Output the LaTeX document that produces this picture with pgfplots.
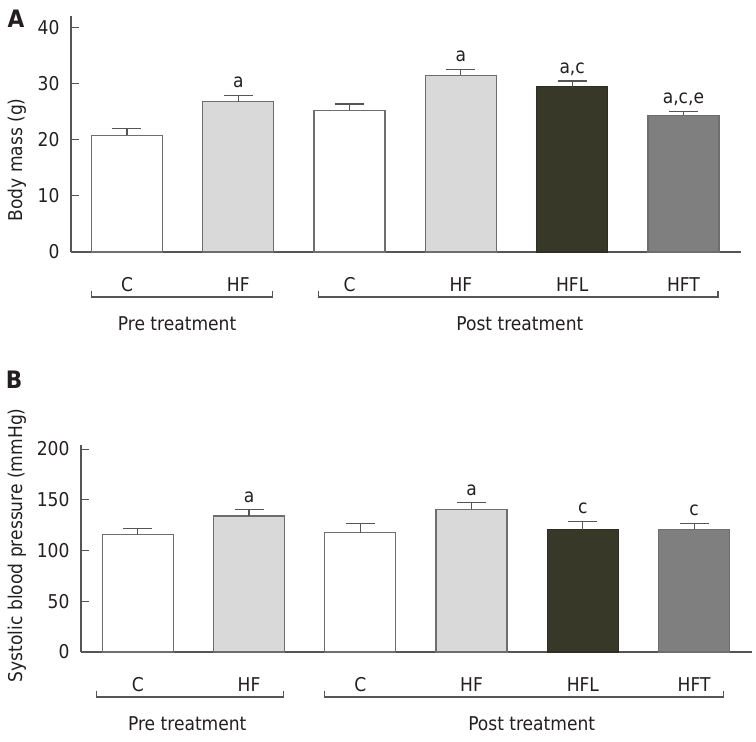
\documentclass[border=0pt]{standalone}
\usepackage{fontspec}
\setmainfont{DejaVu Sans Condensed}
\usepackage{pgfplots}
\pgfplotsset{compat=1.18}
\definecolor{axgray}{HTML}{555555}
\definecolor{barline}{HTML}{6E6E6E}
\definecolor{lgray}{HTML}{D9D9D9}
\definecolor{dolive}{HTML}{383829}
\definecolor{mgray}{HTML}{7F7F7F}
\definecolor{txt}{HTML}{231F20}
\newcommand{\fs}{\fontsize{19}{22}\selectfont}
\pgfplotsset{
  mybar/.style={
    scale only axis, axis lines=left,
    axis line style={-, color=axgray, line width=1.1pt},
    xtick={0,1,2,3,4,5}, xticklabels={C,HF,C,HF,HFL,HFT}, xtick style={draw=none},
    xticklabel style={anchor=base, yshift=-31pt, font=\fs, text=txt},
    yticklabel style={font=\fs, text=txt, xshift=-8pt},
    ytick align=inside, ytick style={color=axgray, line width=1.1pt},
    major tick length=8pt,
    /pgf/number format/assume math mode=true,
    ylabel style={font=\fs, text=txt, anchor=center},
    clip=false, ybar, bar width=71pt,
  },
  eb/.style={bar shift=0pt, line width=1.3pt,
    error bars/.cd, y dir=plus, y explicit,
    error bar style={color=axgray, line width=1.1pt},
    error mark=-, error mark options={rotate=90, color=axgray, line width=1.1pt, mark size=14.5pt}},
}
\begin{document}
\begin{tikzpicture}
\path[use as bounding box] (0pt,0pt) rectangle (756pt,-742pt);
% ---------------- Panel A
\begin{axis}[mybar, at={(71pt,-252pt)}, anchor=south west,
  width=670pt, height=236pt, xmin=-0.503, xmax=5.517, ymin=0, ymax=42.1,
  ytick={0,10,20,30,40},
  ylabel={Body mass (g)},
  ylabel style={at={(axis description cs:-0.0806,0.39)}}]
\addplot[fill=white, draw=barline, eb] coordinates {(0,20.8) +- (0,1.3) (2,25.3) +- (0,1.1)};
\addplot[fill=lgray, draw=barline, eb] coordinates {(1,26.8) +- (0,1.1) (3,31.5) +- (0,1.1)};
\addplot[fill=dolive, draw=dolive!80!black, eb] coordinates {(4,29.5) +- (0,1.0)};
\addplot[fill=mgray, draw=barline, eb] coordinates {(5,24.4) +- (0,0.7)};
\node[anchor=base, font=\fs, text=txt] at ([yshift=8pt]axis cs:1,27.9) {a};
\node[anchor=base, font=\fs, text=txt] at ([yshift=8pt]axis cs:3,32.6) {a};
\node[anchor=base, font=\fs, text=txt] at ([yshift=8pt]axis cs:4,30.5) {a,c};
\node[anchor=base, font=\fs, text=txt] at ([yshift=8pt]axis cs:5,25.1) {a,c,e};
\draw[axgray, line width=1.1pt] ([yshift=-38.5pt]axis cs:-0.32,0) -- ([yshift=-45pt]axis cs:-0.32,0) -- ([yshift=-45pt]axis cs:1.31,0) -- ([yshift=-38.5pt]axis cs:1.31,0);
\draw[axgray, line width=1.1pt] ([yshift=-38.5pt]axis cs:1.72,0) -- ([yshift=-45pt]axis cs:1.72,0) -- ([yshift=-45pt]axis cs:5.31,0) -- ([yshift=-38.5pt]axis cs:5.31,0);
\node[anchor=base, font=\fs, text=txt] at ([yshift=-78pt]axis cs:0.45,0) {Pre treatment};
\node[anchor=base, font=\fs, text=txt] at ([yshift=-78pt]axis cs:3.53,0) {Post treatment};
\node[font=\fontsize{24}{26}\selectfont\bfseries, text=txt] at (axis description cs:-0.082,0.99) {A};
\end{axis}
% ---------------- Panel B
\begin{axis}[mybar, at={(81pt,-652pt)}, anchor=south west,
  width=671pt, height=207pt, xmin=-0.51, xmax=5.52, ymin=0, ymax=204,
  ytick={0,50,100,150,200},
  ylabel={Systolic blood pressure (mmHg)},
  ylabel style={at={(axis description cs:-0.0954,0.516)}}]
\addplot[fill=white, draw=barline, eb] coordinates {(0,116) +- (0,5.5) (2,117.5) +- (0,9)};
\addplot[fill=lgray, draw=barline, eb] coordinates {(1,134) +- (0,6.5) (3,140.5) +- (0,7)};
\addplot[fill=dolive, draw=dolive!80!black, eb] coordinates {(4,120.5) +- (0,8)};
\addplot[fill=mgray, draw=barline, eb] coordinates {(5,121) +- (0,6)};
\node[anchor=base, font=\fs, text=txt] at ([yshift=7pt]axis cs:1,140.5) {a};
\node[anchor=base, font=\fs, text=txt] at ([yshift=7pt]axis cs:3,147.5) {a};
\node[anchor=base, font=\fs, text=txt] at ([yshift=8pt]axis cs:4,128.5) {c};
\node[anchor=base, font=\fs, text=txt] at ([yshift=8pt]axis cs:5,127) {c};
\draw[axgray, line width=1.1pt] ([yshift=-38.5pt]axis cs:-0.37,0) -- ([yshift=-45pt]axis cs:-0.37,0) -- ([yshift=-45pt]axis cs:1.31,0) -- ([yshift=-38.5pt]axis cs:1.31,0);
\draw[axgray, line width=1.1pt] ([yshift=-38.5pt]axis cs:1.68,0) -- ([yshift=-45pt]axis cs:1.68,0) -- ([yshift=-45pt]axis cs:5.26,0) -- ([yshift=-38.5pt]axis cs:5.26,0);
\node[anchor=base, font=\fs, text=txt] at ([yshift=-78pt]axis cs:0.445,0) {Pre treatment};
\node[anchor=base, font=\fs, text=txt] at ([yshift=-78pt]axis cs:3.54,0) {Post treatment};
\node[font=\fontsize{24}{26}\selectfont\bfseries, text=txt] at (axis description cs:-0.0998,1.314) {B};
\end{axis}
\end{tikzpicture}
\end{document}
